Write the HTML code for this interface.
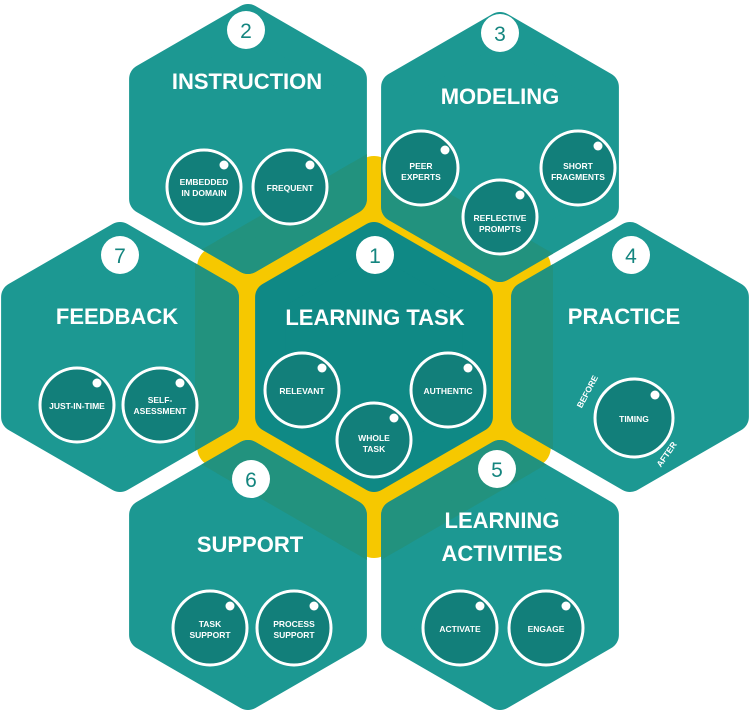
<!DOCTYPE html>
<html><head><meta charset="utf-8"><style>
html,body{margin:0;padding:0;background:#fff;width:750px;height:718px;overflow:hidden}
svg{display:block}
text{font-family:"Liberation Sans",sans-serif;fill:#fff;text-anchor:middle;font-weight:bold}
.t{font-size:22px}
.s{font-size:8.5px}
.n{font-size:21px;fill:#14857f;font-weight:normal}
.c{fill:#127f7a;stroke:#fff;stroke-width:3}
</style></head><body>
<svg width="750" height="718" viewBox="0 0 750 718" xmlns="http://www.w3.org/2000/svg">
<defs>
<polygon id="H" points="0,-120 103.9,-60 103.9,60 0,120 -103.9,60 -103.9,-60" stroke-width="30" stroke-linejoin="round"/>
<clipPath id="yc"><polygon points="374,150 553,253.5 553,460.5 374,564 195,460.5 195,253.5"/></clipPath>
<g id="outer">
<use href="#H" transform="translate(248,139)"/>
<use href="#H" transform="translate(500,147)"/>
<use href="#H" transform="translate(630,357)"/>
<use href="#H" transform="translate(120,357)"/>
<use href="#H" transform="translate(248,575)"/>
<use href="#H" transform="translate(500,575)"/>
</g>
</defs>
<polygon points="374,176 530.8,266.5 530.8,447.5 374,538 217.2,447.5 217.2,266.5" fill="#f6c800" stroke="#f6c800" stroke-width="40" stroke-linejoin="round"/>
<g fill="#1c9892" stroke="#1c9892"><use href="#outer"/></g>
<g fill="#22927e" stroke="#22927e" clip-path="url(#yc)"><use href="#outer"/></g>
<use href="#H" transform="translate(374,357)" fill="#0f8985" stroke="#0f8985"/>

<g fill="#fff">
<circle cx="246" cy="30" r="19"/><circle cx="500" cy="33" r="19"/><circle cx="120" cy="255" r="19"/>
<circle cx="375" cy="255" r="19"/><circle cx="631" cy="255" r="19"/><circle cx="251" cy="479" r="19"/><circle cx="497" cy="469" r="19"/>
</g>
<text class="n" x="246" y="38">2</text><text class="n" x="500" y="41">3</text><text class="n" x="120" y="263">7</text>
<text class="n" x="375" y="263">1</text><text class="n" x="631" y="263">4</text><text class="n" x="251" y="487">6</text><text class="n" x="497" y="477">5</text>

<text class="t" x="247" y="89">INSTRUCTION</text>
<text class="t" x="500" y="104">MODELING</text>
<text class="t" x="117" y="324">FEEDBACK</text>
<text class="t" x="375" y="325">LEARNING TASK</text>
<text class="t" x="624" y="324">PRACTICE</text>
<text class="t" x="250" y="552">SUPPORT</text>
<text class="t" x="502" y="528">LEARNING</text>
<text class="t" x="502" y="561">ACTIVITIES</text>

<g>
<circle class="c" cx="204" cy="187" r="37"/><circle class="c" cx="290" cy="187" r="37"/>
<circle class="c" cx="421" cy="168" r="37"/><circle class="c" cx="500" cy="217" r="37"/><circle class="c" cx="578" cy="168" r="37"/>
<circle class="c" cx="302" cy="390" r="37"/><circle class="c" cx="448" cy="390" r="37"/><circle class="c" cx="374" cy="440" r="37"/>
<circle class="c" cx="77" cy="405" r="37"/><circle class="c" cx="160" cy="405" r="37"/>
<circle class="c" cx="634" cy="418" r="39"/>
<circle class="c" cx="210" cy="628" r="37"/><circle class="c" cx="294" cy="628" r="37"/>
<circle class="c" cx="460" cy="628" r="37"/><circle class="c" cx="546" cy="628" r="37"/>
</g>
<g fill="#fff">
<circle cx="224" cy="165" r="4.5"/><circle cx="310" cy="165" r="4.5"/>
<circle cx="445" cy="150" r="4.5"/><circle cx="520" cy="195" r="4.5"/><circle cx="598" cy="146" r="4.5"/>
<circle cx="322" cy="368" r="4.5"/><circle cx="468" cy="368" r="4.5"/><circle cx="394" cy="418" r="4.5"/>
<circle cx="97" cy="383" r="4.5"/><circle cx="180" cy="383" r="4.5"/>
<circle cx="655" cy="395" r="4.5"/>
<circle cx="230" cy="606" r="4.5"/><circle cx="314" cy="606" r="4.5"/>
<circle cx="480" cy="606" r="4.5"/><circle cx="566" cy="606" r="4.5"/>
</g>
<text class="s" x="204" y="185">EMBEDDED</text><text class="s" x="204" y="196">IN DOMAIN</text>
<text class="s" x="290" y="191">FREQUENT</text>
<text class="s" x="421" y="169">PEER</text><text class="s" x="421" y="180">EXPERTS</text>
<text class="s" x="500" y="221">REFLECTIVE</text><text class="s" x="500" y="232">PROMPTS</text>
<text class="s" x="578" y="169">SHORT</text><text class="s" x="578" y="180">FRAGMENTS</text>
<text class="s" x="302" y="394">RELEVANT</text><text class="s" x="448" y="394">AUTHENTIC</text>
<text class="s" x="374" y="441">WHOLE</text><text class="s" x="374" y="452">TASK</text>
<text class="s" x="77" y="409">JUST-IN-TIME</text>
<text class="s" x="160" y="403">SELF-</text><text class="s" x="160" y="414">ASESSMENT</text>
<text class="s" x="634" y="422">TIMING</text>
<text class="s" x="590" y="393" transform="rotate(-62 590 393)">BEFORE</text>
<text class="s" x="669" y="456" transform="rotate(-55 669 456)">AFTER</text>
<text class="s" x="210" y="627">TASK</text><text class="s" x="210" y="638">SUPPORT</text>
<text class="s" x="294" y="627">PROCESS</text><text class="s" x="294" y="638">SUPPORT</text>
<text class="s" x="460" y="632">ACTIVATE</text><text class="s" x="546" y="632">ENGAGE</text>
</svg>
</body></html>
